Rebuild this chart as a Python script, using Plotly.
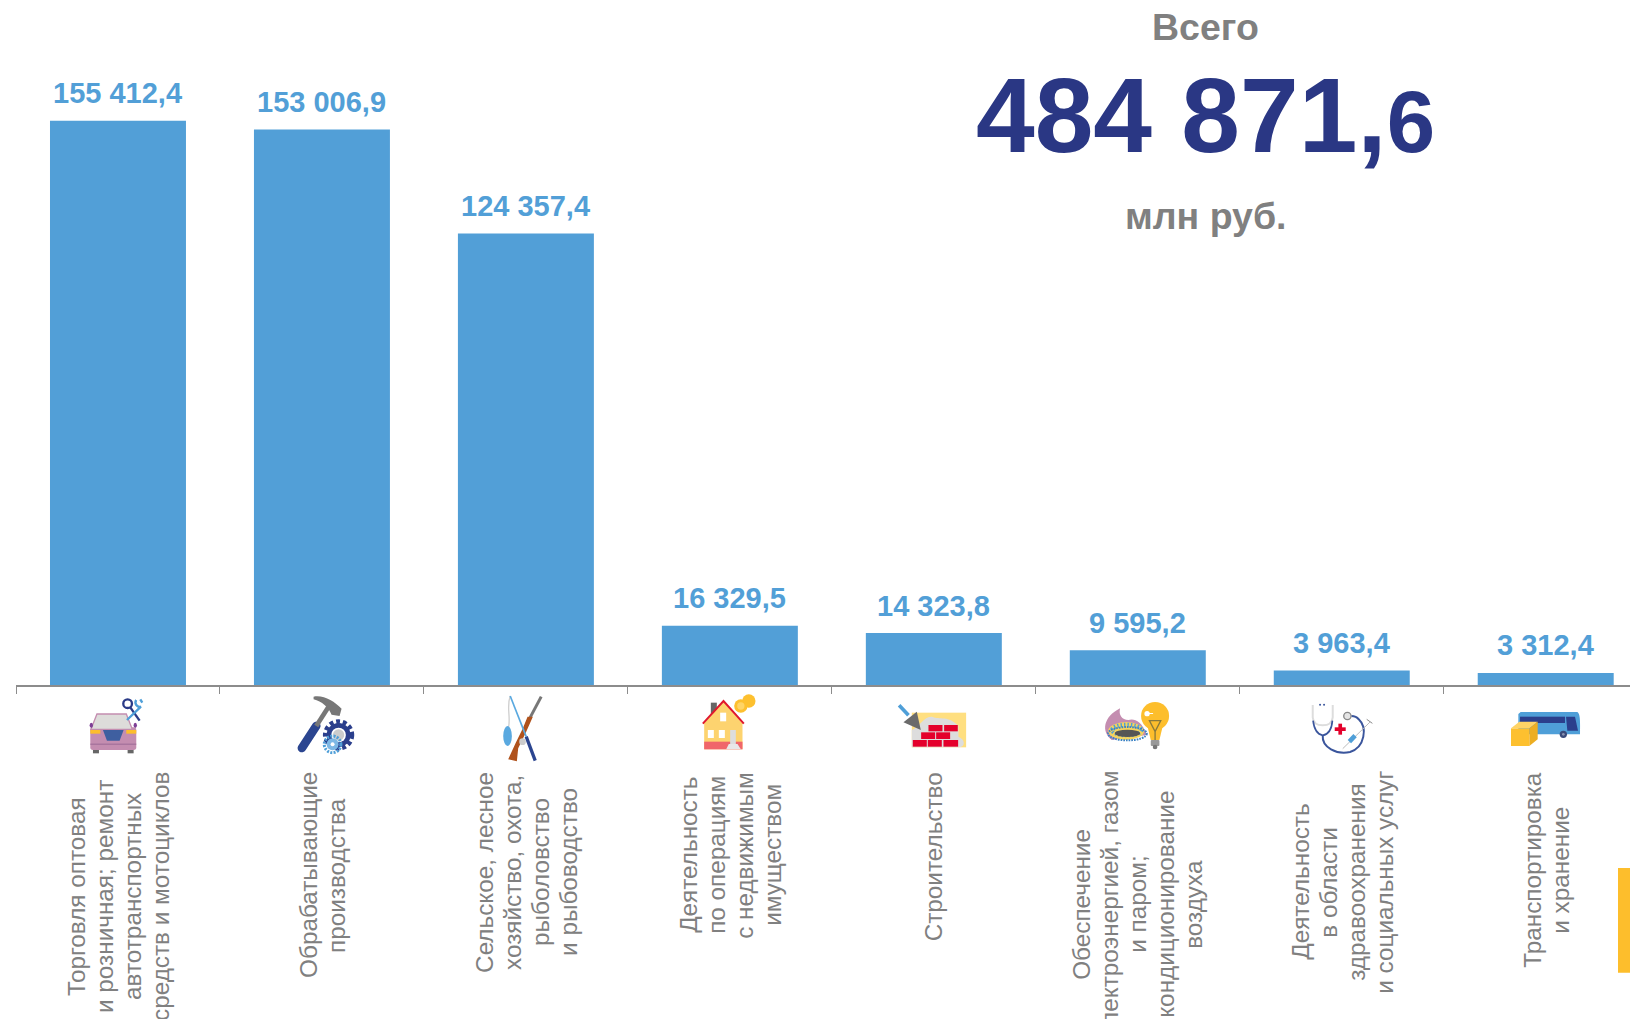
import base64
import plotly.graph_objects as go

categories = [
    "Торговля оптовая<br>и розничная; ремонт<br>автотранспортных<br>средств и мотоциклов",
    "Обрабатывающие<br>производства",
    "Сельское, лесное<br>хозяйство, охота,<br>рыболовство<br>и рыбоводство",
    "Деятельность<br>по операциям<br>с недвижимым<br>имуществом",
    "Строительство",
    "Обеспечение<br>электроэнергией, газом<br>и паром;<br>кондиционирование<br>воздуха",
    "Деятельность<br>в области<br>здравоохранения<br>и социальных услуг",
    "Транспортировка<br>и хранение",
]
values = [155412.4, 153006.9, 124357.4, 16329.5, 14323.8, 9595.2, 3963.4, 3312.4]
value_labels = ["155 412,4", "153 006,9", "124 357,4", "16 329,5", "14 323,8", "9 595,2", "3 963,4", "3 312,4"]
total_label = "484 871,"
total_decimal = "6"

W, H = 1630, 1019
AXIS_Y = 685
LEFT = 15.7
CAT_W = 204
PX_PER_UNIT = 0.003630
BLUE = "#529FD7"
GREY = "#808080"
NAVY = "#2A3784"
LABEL_CENTRES = [896, 875, 872, 855, 856.5, 904, 882, 870]
LINE_PITCH = 28


def px(x):
    return (x - LEFT) / (W - LEFT)


def py(y):
    return 1 - y / AXIS_Y


car_tools = """
<rect x="30" y="112" width="138" height="68" rx="8" fill="#C48DB0"/>
<path d="M50 72 L138 72 L156 118 L32 118 Z" fill="#DDDCDA" stroke="#C48DB0" stroke-width="4"/>
<rect x="30" y="120" width="30" height="11" fill="#FDBE2C"/><rect x="138" y="120" width="30" height="11" fill="#FDBE2C"/>
<path d="M68 120 L130 120 L118 152 L80 152 Z" fill="#3F5FA0"/>
<rect x="30" y="161" width="138" height="3" fill="#9B6A95"/>
<rect x="38" y="180" width="18" height="10" fill="#666"/><rect x="142" y="180" width="18" height="10" fill="#666"/>
<ellipse cx="33" cy="106" rx="5" ry="8" fill="#7E3F96"/><ellipse cx="165" cy="106" rx="5" ry="8" fill="#7E3F96"/>
<circle cx="142" cy="41" r="13" fill="none" stroke="#2B3B87" stroke-width="7"/>
<line x1="150" y1="52" x2="178" y2="92" stroke="#2B3B87" stroke-width="7"/>
<path d="M168 30 A13 13 0 0 0 182 50 L140 90" fill="none" stroke="#4F9FD8" stroke-width="7"/>
<path d="M180 28 L186 38" stroke="#4F9FD8" stroke-width="7"/>
"""
hammer = """
<line x1="665" y1="174" x2="708" y2="108" stroke="#2B4590" stroke-width="26" stroke-linecap="round"/>
<line x1="708" y1="108" x2="745" y2="50" stroke="#777" stroke-width="14"/>
<path d="M700 20 C730 14 762 34 784 56 L778 78 L754 74 C745 52 725 34 700 28 Z" fill="#777"/>
<circle cx="775" cy="135" r="38" fill="none" stroke="#2B3F8C" stroke-width="18" stroke-dasharray="11 8"/>
<circle cx="775" cy="135" r="36" fill="#2B3F8C"/>
<circle cx="775" cy="135" r="22" fill="#fff"/><circle cx="775" cy="135" r="17" fill="#ccc"/>
<circle cx="757" cy="163" r="25" fill="none" stroke="#4F9FD8" stroke-width="9" stroke-dasharray="6 4"/>
<circle cx="757" cy="163" r="18" fill="#7DB8E5"/>
<circle cx="757" cy="163" r="6" fill="#fff"/>
"""
fishing = """
<path d="M60 18 C48 50 62 80 55 112" fill="none" stroke="#cfcfcf" stroke-width="4"/>
<ellipse cx="52" cy="138" rx="13" ry="30" fill="#5AA9E0"/>
<line x1="153" y1="20" x2="120" y2="82" stroke="#777" stroke-width="9"/>
<path d="M128 80 L108 125 L84 175 L80 214 L54 208 L76 160 L98 115 L112 80 Z" fill="#B0521C"/>
<line x1="60" y1="18" x2="108" y2="140" stroke="#5AA9E0" stroke-width="5"/>
<line x1="108" y1="140" x2="135" y2="212" stroke="#2B4590" stroke-width="10"/>
<circle cx="97" cy="155" r="10" fill="#ccc"/>
"""
house = """
<rect x="662" y="38" width="18" height="34" fill="#666"/>
<path d="M642 100 L700 35 L757 100 L757 178 L642 178 Z" fill="#FDD36F"/>
<path d="M638 101 L700 33 L761 101" fill="none" stroke="#E0182D" stroke-width="6"/>
<rect x="642" y="155" width="115" height="23" fill="#F0666A"/>
<rect x="720" y="120" width="17" height="42" fill="#DDD"/>
<path d="M716 162 L742 162 L752 178 L708 178 Z" fill="#E8E8E8"/>
<rect x="690" y="68" width="18" height="26" fill="#fff"/>
<rect x="653" y="120" width="18" height="24" fill="#fff"/>
<rect x="686" y="120" width="18" height="24" fill="#fff"/>
<circle cx="776" cy="33" r="20" fill="#FDC02F"/><circle cx="752" cy="48" r="20" fill="#FDC02F"/>
<circle cx="752" cy="48" r="11" fill="#FFD466"/>
"""
bricks = """
<rect x="65" y="68" width="163" height="104" fill="#FFDF80"/>
<path d="M65 172 L65 120 C90 110 100 78 125 80 C150 90 175 75 205 108 L205 140 C228 150 225 172 205 172 Z" fill="#DDD"/>
<g fill="#E4002B">
<rect x="115" y="105" width="42" height="19"/><rect x="162" y="105" width="41" height="19"/>
<rect x="93" y="127" width="42" height="20"/><rect x="138" y="127" width="42" height="20"/>
<rect x="68" y="150" width="42" height="20"/><rect x="113" y="150" width="42" height="20"/><rect x="160" y="150" width="44" height="20"/>
</g>
<path d="M40 97 L80 65 L92 120 Z" fill="#6B6B6B"/>
<line x1="27" y1="46" x2="55" y2="76" stroke="#4F9FD8" stroke-width="11"/>
"""
burner_bulb = """
<path d="M690 55 C640 80 632 125 665 150 L770 135 C755 90 730 85 715 90 C695 90 685 75 690 55 Z" fill="#C48DB0"/>
<ellipse cx="708" cy="123" rx="54" ry="27" fill="#F4D35E"/>
<ellipse cx="710" cy="120" rx="44" ry="16" fill="none" stroke="#4F9FD8" stroke-width="12" stroke-dasharray="4 6"/>
<ellipse cx="712" cy="130" rx="38" ry="11" fill="#555"/>
<ellipse cx="712" cy="131" rx="58" ry="20" fill="none" stroke="#3B82C4" stroke-width="6" stroke-dasharray="5 3"/>
<circle cx="795" cy="78" r="42" fill="#FDBE2C"/>
<path d="M772 108 L818 108 L808 150 L782 150 Z" fill="#FDBE2C"/>
<path d="M778 92 L812 92 L795 125 Z M795 125 L795 150" fill="none" stroke="#8A7A3A" stroke-width="4"/>
<rect x="782" y="150" width="26" height="18" rx="3" fill="#999"/>
<circle cx="795" cy="171" r="7" fill="#777"/>
<circle cx="771" cy="71" r="8" fill="#fff"/><rect x="775" y="69" width="14" height="3" fill="#fff"/>
"""
stethoscope = """
<path d="M38 45 L38 82 Q40 106 68 106 Q96 106 98 82 L98 45" fill="none" stroke="#DDD" stroke-width="6"/>
<path d="M39 92 Q44 132 68 136 Q94 132 97 92" fill="none" stroke="#3A559C" stroke-width="5"/>
<path d="M68 136 C65 172 110 195 150 186 C195 172 202 112 176 88 C170 80 162 78 154 78" fill="none" stroke="#3A559C" stroke-width="6"/>
<circle cx="142" cy="78" r="11" fill="#E5E5E5" stroke="#888" stroke-width="4"/>
<rect x="104" y="112" width="33" height="11" fill="#E4002B"/><rect x="115" y="101" width="11" height="33" fill="#E4002B"/>
<line x1="210" y1="96" x2="128" y2="176" stroke="#BBB" stroke-width="3"/>
<line x1="200" y1="88" x2="217" y2="100" stroke="#888" stroke-width="3"/>
<line x1="165" y1="137" x2="148" y2="155" stroke="#4F9FD8" stroke-width="14"/>
<circle cx="60" cy="44" r="3" fill="#3A559C"/><circle cx="72" cy="44" r="3" fill="#3A559C"/>
"""
bus_box = """
<path d="M662 66 L832 66 C842 72 840 100 840 133 L655 133 L655 72 Z" fill="#4F9FD8"/>
<rect x="660" y="80" width="135" height="19" fill="#2B3F8C"/>
<path d="M798 80 L825 80 L834 122 L802 122 Z" fill="#2B3F8C"/>
<circle cx="790" cy="133" r="11" fill="#3A4A7A"/><circle cx="790" cy="133" r="4" fill="#8892B0"/>
<path d="M633 115 L688 115 L688 168 L633 168 Z" fill="#FDC02F"/>
<path d="M633 115 L658 95 L713 95 L688 115 Z" fill="#FFD466"/>
<path d="M688 115 L713 95 L713 148 L688 168 Z" fill="#EDAE22"/>
"""
icon_crops = [(80, car_tools + hammer), (490, fishing + house),
              (890, bricks + burner_bulb), (1300, stethoscope + bus_box)]
images = []
for crop_x, body in icon_crops:
    svg = f'<svg xmlns="http://www.w3.org/2000/svg" width="870" height="240" viewBox="0 0 870 240">{body}</svg>'
    uri = "data:image/svg+xml;base64," + base64.b64encode(svg.encode()).decode()
    images.append(dict(source=uri, xref="paper", yref="paper", x=px(crop_x), y=py(690),
                       sizex=290 / (W - LEFT), sizey=80 / AXIS_Y, sizing="stretch",
                       xanchor="left", yanchor="top", layer="above"))

fig = go.Figure(go.Bar(
    x=categories, y=values, width=136 / CAT_W,
    marker=dict(color=BLUE, line=dict(width=0)),
    hoverinfo="skip",
))

annotations = [
    dict(x=c, xref="x", y=v, yref="y", yshift=9.5, text=f"<b>{lab}</b>", showarrow=False,
         xanchor="center", yanchor="bottom",
         font=dict(family="Liberation Sans", size=29, color=BLUE))
    for c, v, lab in zip(categories, values, value_labels)
]
for c, centre in zip(categories, LABEL_CENTRES):
    lines = c.split("<br>")
    for i, line in enumerate(lines):
        annotations.append(dict(
            x=c, xref="x", y=py(centre), yref="paper", xshift=(i - (len(lines) - 1) / 2) * LINE_PITCH,
            text=line, textangle=-90, showarrow=False, xanchor="center", yanchor="middle",
            font=dict(family="Liberation Sans", size=24.3, color=GREY)))
annotations += [
    dict(x=px(1205), y=py(27), xref="paper", yref="paper", text="<b>Всего</b>", showarrow=False,
         xanchor="center", yanchor="middle",
         font=dict(family="Liberation Sans", size=37.5, color=GREY)),
    dict(x=px(1205), y=py(115), xref="paper", yref="paper",
         text=f'<b>{total_label}<span style="font-size:87px">{total_decimal}</span></b>', showarrow=False,
         xanchor="center", yanchor="middle",
         font=dict(family="Liberation Sans", size=105.5, color=NAVY)),
    dict(x=px(1205), y=py(216), xref="paper", yref="paper", text="<b>млн руб.</b>", showarrow=False,
         xanchor="center", yanchor="middle",
         font=dict(family="Liberation Sans", size=37.5, color=GREY)),
]

fig.update_layout(
    width=W, height=H, margin=dict(l=LEFT, r=0, t=0, b=H - AXIS_Y, pad=0, autoexpand=False),
    paper_bgcolor="white", plot_bgcolor="white", showlegend=False,
    xaxis=dict(type="category", range=[-0.5, (W - LEFT) / CAT_W - 0.5], tickson="boundaries",
               ticks="outside", ticklen=7, tickcolor="#8C8C8C", tickwidth=1,
               showline=True, linecolor="#8C8C8C", linewidth=1.5, showgrid=False,
               showticklabels=False, fixedrange=True),
    yaxis=dict(visible=False, range=[0, AXIS_Y / PX_PER_UNIT], fixedrange=True),
    images=images, annotations=annotations,
    shapes=[dict(type="rect", xref="paper", yref="paper", x0=px(1618), x1=1, y0=py(972.7), y1=py(868),
                 fillcolor="#FDBE2C", line=dict(width=0))],
)
fig.write_html("out.html", config=dict(displayModeBar=False),
               post_script="document.body.style.margin='0';document.body.style.overflow='hidden';")
